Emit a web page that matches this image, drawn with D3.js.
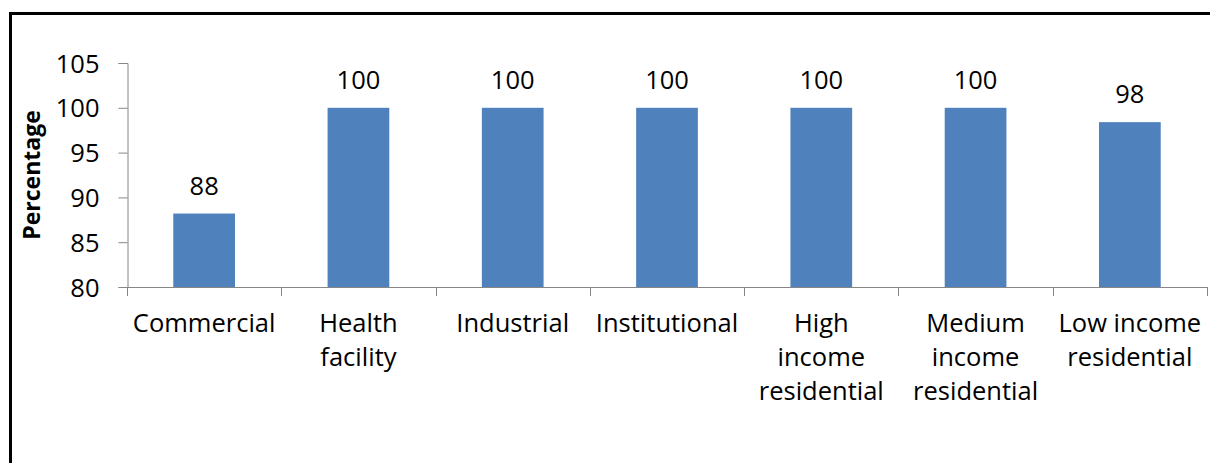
<!DOCTYPE html>
<html>
<head>
<meta charset="utf-8">
<script src="https://cdn.jsdelivr.net/npm/d3@7"></script>
<style>
  html, body { margin: 0; padding: 0; background: #fff; }
  svg { display: block; }
  text { font-family: "Open Sans", "Noto Sans", sans-serif; fill: #000; }
</style>
</head>
<body>
<svg id="chart" width="1210" height="463"></svg>
<script>
// Share of premises by land-use category (percent)
const categories = [
  ["Commercial"],
  ["Health", "facility"],
  ["Industrial"],
  ["Institutional"],
  ["High", "income", "residential"],
  ["Medium", "income", "residential"],
  ["Low income", "residential"]
];
const values = [88.2, 100, 100, 100, 100, 100, 98.4];
const yTicks = [80, 85, 90, 95, 100, 105];
const yLabel = "Percentage";

const svg = d3.select("#chart");
const W = 1210, H = 463;

// Outer frame
svg.append("rect")
  .attr("x", 10.5).attr("y", 13.5)
  .attr("width", W).attr("height", H)
  .attr("fill", "none").attr("stroke", "#000").attr("stroke-width", 3);

const plot = { left: 127, right: 1207, top: 63, bottom: 287 };
const keys = categories.map(c => c.join(" "));

const x = d3.scaleBand()
  .domain(keys)
  .range([plot.left, plot.right])
  .paddingInner(0.6)
  .paddingOuter(0.3);

const y = d3.scaleLinear()
  .domain([80, 105])
  .range([plot.bottom, plot.top]);

const axisColor = "#868686";
const fontSize = 25.5;

// Y axis
const yAxis = svg.append("g")
  .attr("transform", `translate(${plot.left + 0.5},0)`)
  .call(d3.axisLeft(y).tickValues(yTicks).tickSize(9).tickPadding(19).tickFormat(d3.format("d")));
yAxis.select(".domain").attr("stroke", axisColor);
yAxis.selectAll(".tick line").attr("stroke", axisColor);
yAxis.selectAll(".tick text")
  .attr("font-size", fontSize)
  .attr("font-family", "'Open Sans', sans-serif")
  .attr("fill", "#000")
  .attr("dy", "0.36em");

// X axis baseline and category boundary ticks
const step = x.step();
const boundaries = d3.range(keys.length + 1).map(i => plot.left + i * step);
svg.append("line")
  .attr("x1", plot.left).attr("x2", plot.right)
  .attr("y1", plot.bottom + 0.5).attr("y2", plot.bottom + 0.5)
  .attr("stroke", axisColor);
svg.selectAll(".xtick")
  .data(boundaries)
  .join("line")
  .attr("class", "xtick")
  .attr("x1", d => Math.round(d) + 0.5).attr("x2", d => Math.round(d) + 0.5)
  .attr("y1", plot.bottom).attr("y2", plot.bottom + 9)
  .attr("stroke", axisColor);

// Category labels (multi-line)
const labels = svg.selectAll(".xlabel")
  .data(categories)
  .join("text")
  .attr("class", "xlabel")
  .attr("text-anchor", "middle")
  .attr("font-size", fontSize)
  .attr("transform", (d, i) => `translate(${x(keys[i]) + x.bandwidth() / 2},332)`);
labels.selectAll("tspan")
  .data(d => d)
  .join("tspan")
  .attr("x", 0)
  .attr("y", (d, i) => i * 34)
  .text(d => d);

// Bars
svg.selectAll(".bar")
  .data(values)
  .join("rect")
  .attr("class", "bar")
  .attr("x", (d, i) => x(keys[i]))
  .attr("width", x.bandwidth())
  .attr("y", d => y(d))
  .attr("height", d => y(80) - y(d))
  .attr("fill", "#4F81BD");

// Value labels
svg.selectAll(".value")
  .data(values)
  .join("text")
  .attr("class", "value")
  .attr("text-anchor", "middle")
  .attr("font-size", fontSize)
  .attr("x", (d, i) => x(keys[i]) + x.bandwidth() / 2)
  .attr("y", d => y(d) - 19)
  .text(d => d3.format(".0f")(d));

// Y axis title
svg.append("text")
  .attr("transform", `translate(40,${(plot.top + plot.bottom) / 2}) rotate(-90)`)
  .attr("text-anchor", "middle")
  .attr("font-size", 23)
  .attr("font-weight", "bold")
  .text(yLabel);
</script>
</body>
</html>
